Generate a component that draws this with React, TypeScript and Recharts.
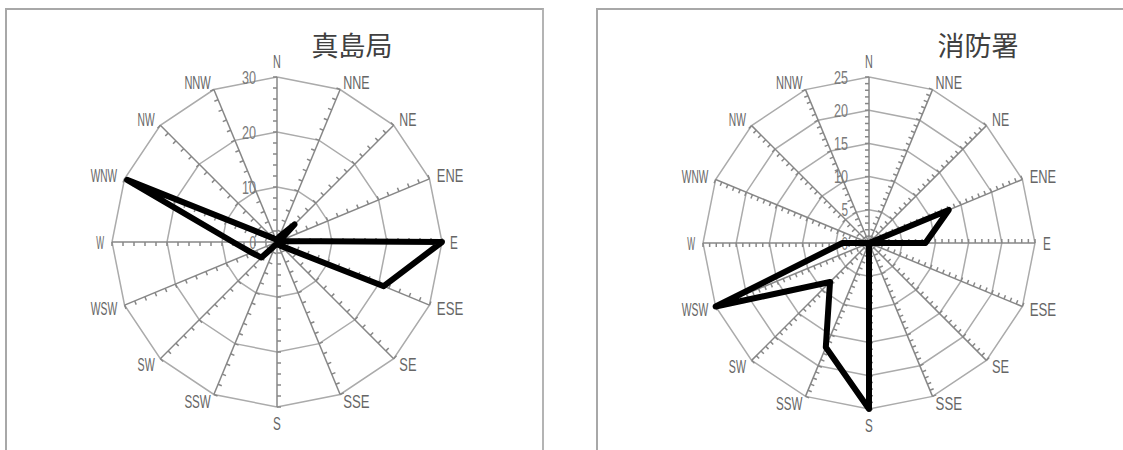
import React from 'react';
import { RadarChart, Radar, PolarGrid, PolarAngleAxis, PolarRadiusAxis } from 'recharts';

const DIRECTIONS = ['N', 'NNE', 'NE', 'ENE', 'E', 'ESE', 'SE', 'SSE', 'S', 'SSW', 'SW', 'WSW', 'W', 'WNW', 'NW', 'NNW'];
const MAJIMA_VALUES = [0.5, 1, 4.5, 0.5, 30, 21, 1, 0.5, 0.5, 0.5, 4, 5, 8, 29.5, 1, 0.5];
const SHOBO_VALUES = [0, 0, 0, 13, 8.5, 0, 0, 0, 25, 17, 8.3, 25, 4, 0, 0, 0];
const MAJIMA_TICKS = [0, 10, 20, 30];
const SHOBO_TICKS = [0, 5, 10, 15, 20, 25];
const MAJIMA_TITLE = '真島局';
const SHOBO_TITLE = '消防署';

const buildData = (values: number[]) => DIRECTIONS.map((d, i) => ({ dir: d, value: values[i] }));

const LABEL_FONT = '"Liberation Sans Narrow", "Liberation Sans", Arial, sans-serif';
const TEXT_COLOR = '#666666';
const SPOKE_COLOR = '#878787';
const RING_COLOR = '#ababab';

type Cfg = { cx: number; cy: number; radius: number; max: number; minorStep: number };

const makeAngleTick = (cfg: Cfg) => (props: any) => {
  const { payload } = props;
  const cx = typeof props.cx === 'number' ? props.cx : cfg.cx;
  const cy = typeof props.cy === 'number' ? props.cy : cfg.cy;
  const a = (-payload.coordinate * Math.PI) / 180;
  const dx = Math.cos(a);
  const dy = Math.sin(a);
  const R = cfg.radius;
  const ex = cx + R * dx;
  const ey = cy + R * dy;
  const px = dy;
  const py = -dx;
  const ticks: React.ReactNode[] = [];
  const n = Math.round(cfg.max / cfg.minorStep);
  for (let i = 1; i <= n; i++) {
    const r = (i * cfg.minorStep * R) / cfg.max;
    const bx = cx + r * dx;
    const by = cy + r * dy;
    ticks.push(
      <line key={i} x1={bx} y1={by} x2={bx + px * 4} y2={by + py * 4} stroke={SPOKE_COLOR} strokeWidth={1.5} />
    );
  }
  let anchor: 'start' | 'middle' | 'end' = 'middle';
  let lx = ex;
  let ly = ey;
  if (Math.abs(dx) < 0.01) {
    ly = ey + (dy < 0 ? -16 : 16);
  } else {
    anchor = dx > 0 ? 'start' : 'end';
    lx = ex + dx * 8;
    ly = ey + dy * 8;
  }
  const label = String(payload.value);
  return (
    <g>
      <line x1={cx} y1={cy} x2={ex} y2={ey} stroke={SPOKE_COLOR} strokeWidth={1.5} />
      {ticks}
      <text
        x={lx}
        y={ly + 6.5}
        textAnchor={anchor}
        fontFamily={LABEL_FONT}
        fontSize={18}
        fill={TEXT_COLOR}
        textLength={label.length * 9.3 - 1.5}
        lengthAdjust="spacingAndGlyphs"
      >
        {label}
      </text>
    </g>
  );
};

const radiusTick = (props: any) => {
  const { x, y, payload } = props;
  const label = String(payload.value);
  return (
    <text
      x={x - 21}
      y={y + 6.5}
      textAnchor="end"
      fontFamily={LABEL_FONT}
      fontSize={18}
      fill="#7a7a7a"
      textLength={label.length * 7.5 - 1}
      lengthAdjust="spacingAndGlyphs"
    >
      {label}
    </text>
  );
};

type WindProps = { values: number[]; ticks: number[]; cfg: Cfg; width: number; layer: 'grid' | 'line' };

const Wind = ({ values, ticks, cfg, width, layer }: WindProps) => {
  const isGrid = layer === 'grid';
  return (
    <RadarChart
      width={width}
      height={450}
      data={buildData(values)}
      cx={cfg.cx}
      cy={cfg.cy}
      outerRadius={cfg.radius}
      margin={{ top: 0, right: 0, bottom: 0, left: 0 }}
    >
      {isGrid && <PolarGrid gridType="polygon" radialLines={false} stroke={RING_COLOR} strokeWidth={1.5} />}
      <PolarAngleAxis dataKey="dir" axisLine={false} tickLine={false} tick={isGrid ? makeAngleTick(cfg) : false} />
      <PolarRadiusAxis
        angle={90}
        domain={[0, cfg.max]}
        ticks={ticks}
        tickCount={ticks.length}
        axisLine={false}
        tick={isGrid ? radiusTick : false}
      />
      <Radar
        dataKey="value"
        stroke={isGrid ? 'none' : '#000000'}
        strokeWidth={6}
        strokeLinejoin="round"
        fill="none"
        fillOpacity={0}
        dot={false}
        isAnimationActive={false}
      />
    </RadarChart>
  );
};

const titleStyle: React.CSSProperties = {
  position: 'absolute',
  top: 31,
  fontFamily: '"Noto Sans CJK JP", "Noto Sans CJK SC", sans-serif',
  fontSize: 27,
  lineHeight: '27px',
  color: '#404040',
  width: 200,
  textAlign: 'center',
  whiteSpace: 'nowrap',
};

const layerStyle: React.CSSProperties = { position: 'absolute', top: 0 };

export default function App() {
  const leftCfg = { cx: 277, cy: 242, radius: 165, max: 30, minorStep: 2 };
  const rightCfg = { cx: 309, cy: 243, radius: 166, max: 25, minorStep: 1 };
  return (
    <div style={{ position: 'absolute', left: 0, top: 0, width: 1123, height: 450, overflow: 'hidden', background: '#fff' }}>
      <div style={{ position: 'absolute', left: 5, top: 8, width: 535, height: 470, borderTop: '2px solid #a8a8a8', borderLeft: '2px solid #a8a8a8', borderRight: '2px solid #b4b4b4' }} />
      <div style={{ position: 'absolute', left: 596, top: 8, width: 600, height: 470, borderTop: '2px solid #a8a8a8', borderLeft: '2px solid #a8a8a8' }} />
      <div style={{ ...layerStyle, left: 0 }}>
        <Wind layer="grid" values={MAJIMA_VALUES} ticks={MAJIMA_TICKS} width={560} cfg={leftCfg} />
      </div>
      <div style={{ ...layerStyle, left: 0 }}>
        <Wind layer="line" values={MAJIMA_VALUES} ticks={MAJIMA_TICKS} width={560} cfg={leftCfg} />
      </div>
      <div style={{ ...layerStyle, left: 560 }}>
        <Wind layer="grid" values={SHOBO_VALUES} ticks={SHOBO_TICKS} width={563} cfg={rightCfg} />
      </div>
      <div style={{ ...layerStyle, left: 560 }}>
        <Wind layer="line" values={SHOBO_VALUES} ticks={SHOBO_TICKS} width={563} cfg={rightCfg} />
      </div>
      <div style={{ ...titleStyle, left: 352 - 100 }}>{MAJIMA_TITLE}</div>
      <div style={{ ...titleStyle, left: 978 - 100 }}>{SHOBO_TITLE}</div>
    </div>
  );
}
